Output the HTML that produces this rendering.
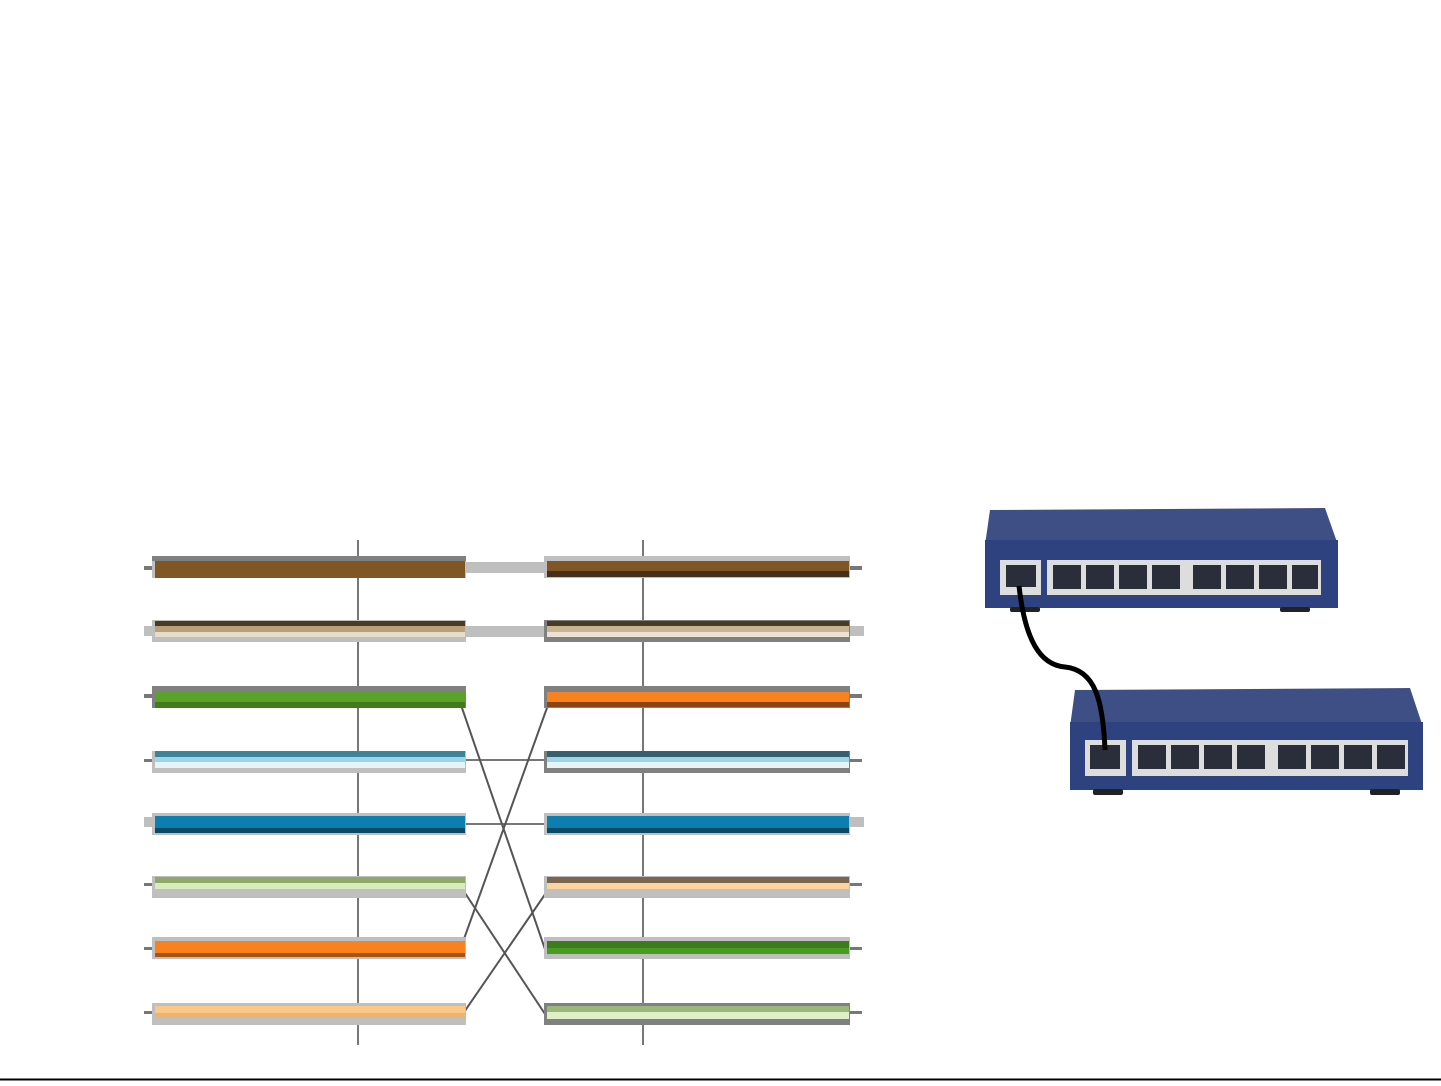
<!DOCTYPE html>
<html><head><style>html,body{margin:0;padding:0;background:#fff}</style></head><body>
<svg width="1441" height="1081" viewBox="0 0 1441 1081" xmlns="http://www.w3.org/2000/svg">
<rect width="1441" height="1081" fill="#fff"/>
<line x1="0" y1="1079.5" x2="1441" y2="1079.5" stroke="#000" stroke-width="2"/>
<!-- vertical lines -->
<line x1="358" y1="540" x2="358" y2="1045" stroke="#777" stroke-width="2"/>
<line x1="643" y1="540" x2="643" y2="1045" stroke="#777" stroke-width="2"/>
<!-- connecting straight gray -->
<rect x="465" y="562" width="82" height="11" fill="#bfbfbf"/>
<rect x="465" y="626" width="82" height="11" fill="#bfbfbf"/>
<line x1="465" y1="760" x2="547" y2="760" stroke="#777" stroke-width="2"/>
<line x1="465" y1="824" x2="547" y2="824" stroke="#777" stroke-width="2"/>
<!-- crossings -->
<g stroke="#555" stroke-width="2" fill="none">
<line x1="461" y1="705" x2="547" y2="955"/>
<line x1="460" y1="950" x2="548" y2="705"/>
<line x1="463" y1="890" x2="547" y2="1017"/>
<line x1="460" y1="1018" x2="548" y2="890"/>
</g>
<g id="L">
<!-- left bars: each y top -->
<g>
<rect x="144" y="566" width="10" height="4" fill="#777"/>
<rect x="152" y="556" width="314" height="22" fill="#bfbfbf"/>
<rect x="152" y="556" width="314" height="5" fill="#808080"/>
<rect x="155" y="561" width="310" height="17" fill="#7f5624"/>
</g>
<g>
<rect x="144" y="626" width="10" height="10" fill="#bfbfbf"/>
<rect x="152" y="620" width="314" height="22" fill="#bfbfbf"/>
<rect x="155" y="621" width="310" height="5" fill="#4a3c22"/>
<rect x="155" y="626" width="310" height="6" fill="#b8a07c"/>
<rect x="155" y="632" width="310" height="5" fill="#e5dccc"/>
</g>
<g>
<rect x="144" y="694" width="10" height="4" fill="#777"/>
<rect x="152" y="686" width="314" height="22" fill="#808080"/>
<rect x="155" y="692" width="310" height="10" fill="#5aa229"/>
<rect x="155" y="702" width="310" height="6" fill="#437a1e"/>
</g>
<g>
<rect x="144" y="759" width="10" height="3" fill="#777"/>
<rect x="152" y="751" width="314" height="22" fill="#bfbfbf"/>
<rect x="155" y="751" width="310" height="6" fill="#3a849c"/>
<rect x="155" y="757" width="310" height="5" fill="#9fd3e8"/>
<rect x="155" y="762" width="310" height="6" fill="#e6f3f7"/>
</g>
<g>
<rect x="144" y="817" width="10" height="10" fill="#bfbfbf"/>
<rect x="152" y="813" width="314" height="22" fill="#bfbfbf"/>
<rect x="155" y="816" width="310" height="12" fill="#0c7eb0"/>
<rect x="155" y="828" width="310" height="5" fill="#0a4a66"/>
</g>
<g>
<rect x="144" y="883" width="10" height="3" fill="#777"/>
<rect x="152" y="876" width="314" height="22" fill="#bfbfbf"/>
<rect x="155" y="877" width="310" height="6" fill="#8fa86a"/>
<rect x="155" y="883" width="310" height="6" fill="#d6ecbc"/>
</g>
<g>
<rect x="144" y="947" width="10" height="3" fill="#777"/>
<rect x="152" y="937" width="314" height="22" fill="#bfbfbf"/>
<rect x="155" y="941" width="310" height="12" fill="#f9821e"/>
<rect x="155" y="953" width="310" height="4" fill="#a4561a"/>
</g>
<g>
<rect x="144" y="1011" width="10" height="3" fill="#777"/>
<rect x="152" y="1003" width="314" height="22" fill="#bfbfbf"/>
<rect x="155" y="1006" width="310" height="7" fill="#fcc888"/>
<rect x="155" y="1013" width="310" height="5" fill="#eab477"/>
</g>
</g>
<!-- right bars -->
<g>
<rect x="848" y="566" width="14" height="4" fill="#777"/>
<rect x="544" y="556" width="306" height="22" fill="#bfbfbf"/>
<rect x="547" y="561" width="302" height="10" fill="#7f5624"/>
<rect x="547" y="571" width="302" height="6" fill="#47301a"/>
</g>
<g>
<rect x="848" y="626" width="16" height="10" fill="#bfbfbf"/>
<rect x="544" y="620" width="306" height="22" fill="#808080"/>
<rect x="547" y="621" width="302" height="5" fill="#4a3c22"/>
<rect x="547" y="626" width="302" height="6" fill="#c8b493"/>
<rect x="547" y="632" width="302" height="5" fill="#ebe4d6"/>
</g>
<g>
<rect x="848" y="694" width="14" height="4" fill="#777"/>
<rect x="544" y="686" width="306" height="22" fill="#808080"/>
<rect x="547" y="692" width="302" height="10" fill="#f9821e"/>
<rect x="547" y="702" width="302" height="5" fill="#8a4416"/>
</g>
<g>
<rect x="848" y="759" width="14" height="3" fill="#777"/>
<rect x="544" y="751" width="306" height="22" fill="#808080"/>
<rect x="547" y="751" width="302" height="6" fill="#356070"/>
<rect x="547" y="757" width="302" height="5" fill="#9fd3e8"/>
<rect x="547" y="762" width="302" height="6" fill="#e6f3f7"/>
</g>
<g>
<rect x="848" y="817" width="16" height="10" fill="#bfbfbf"/>
<rect x="544" y="813" width="306" height="22" fill="#bfbfbf"/>
<rect x="547" y="816" width="302" height="12" fill="#0c7eb0"/>
<rect x="547" y="828" width="302" height="5" fill="#0a4a66"/>
</g>
<g>
<rect x="848" y="883" width="14" height="3" fill="#777"/>
<rect x="544" y="876" width="306" height="22" fill="#bfbfbf"/>
<rect x="547" y="877" width="302" height="6" fill="#7a6650"/>
<rect x="547" y="883" width="302" height="6" fill="#fcd4a0"/>
</g>
<g>
<rect x="848" y="947" width="14" height="3" fill="#777"/>
<rect x="544" y="937" width="306" height="22" fill="#bfbfbf"/>
<rect x="547" y="941" width="302" height="7" fill="#3a7e1c"/>
<rect x="547" y="948" width="302" height="6" fill="#4a9a25"/>
</g>
<g>
<rect x="848" y="1011" width="14" height="3" fill="#777"/>
<rect x="544" y="1003" width="306" height="22" fill="#808080"/>
<rect x="547" y="1006" width="302" height="6" fill="#9ab87a"/>
<rect x="547" y="1012" width="302" height="7" fill="#dff0c8"/>
</g>
<!-- switch 1 -->
<g>
<polygon points="990,510 1325,508 1338,545 985,545" fill="#3e4f86"/>
<rect x="985" y="540" width="353" height="68" fill="#2f4280"/>
<rect x="1000" y="560" width="41" height="35" fill="#ddd"/>
<rect x="1006" y="565" width="30" height="22" fill="#2a2e3a"/>
<rect x="1047" y="560" width="274" height="35" fill="#ddd"/>
<g fill="#2a2e3a">
<rect x="1053" y="565" width="28" height="24"/><rect x="1086" y="565" width="28" height="24"/><rect x="1119" y="565" width="28" height="24"/><rect x="1152" y="565" width="28" height="24"/>
<rect x="1193" y="565" width="28" height="24"/><rect x="1226" y="565" width="28" height="24"/><rect x="1259" y="565" width="28" height="24"/><rect x="1292" y="565" width="26" height="24"/>
</g>
<rect x="1010" y="607" width="30" height="5" fill="#222" rx="2"/>
<rect x="1280" y="607" width="30" height="5" fill="#222" rx="2"/>
</g>
<!-- switch 2 -->
<g>
<polygon points="1075,690 1410,688 1423,727 1070,727" fill="#3e4f86"/>
<rect x="1070" y="722" width="353" height="68" fill="#2f4280"/>
<rect x="1085" y="740" width="41" height="36" fill="#ddd"/>
<rect x="1090" y="745" width="30" height="24" fill="#2a2e3a"/>
<rect x="1132" y="740" width="276" height="36" fill="#ddd"/>
<g fill="#2a2e3a">
<rect x="1138" y="745" width="28" height="24"/><rect x="1171" y="745" width="28" height="24"/><rect x="1204" y="745" width="28" height="24"/><rect x="1237" y="745" width="28" height="24"/>
<rect x="1278" y="745" width="28" height="24"/><rect x="1311" y="745" width="28" height="24"/><rect x="1344" y="745" width="28" height="24"/><rect x="1377" y="745" width="28" height="24"/>
</g>
<rect x="1093" y="789" width="30" height="6" fill="#222" rx="2"/>
<rect x="1370" y="789" width="30" height="6" fill="#222" rx="2"/>
</g>
<path d="M1019,586 C1025,640 1040,665 1065,667 C1095,670 1103,700 1105,750" fill="none" stroke="#000" stroke-width="5"/>
</svg>
</body></html>
